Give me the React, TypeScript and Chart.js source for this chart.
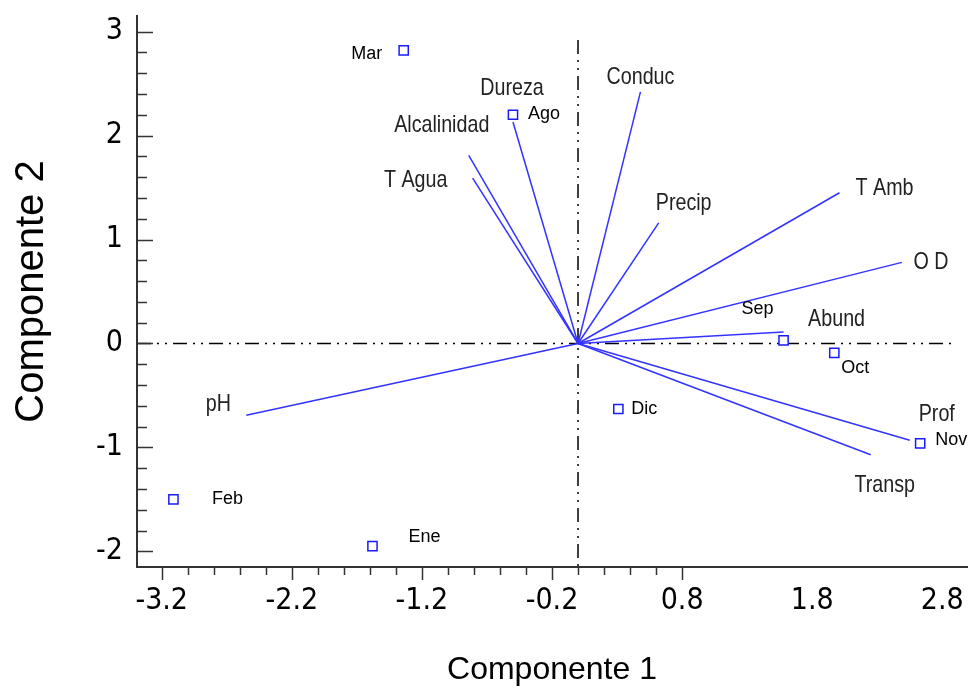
import React, { useEffect, useRef } from "react";
import { Chart, registerables } from "chart.js";

Chart.register(...registerables);

// ---- data ----
const months = ["Mar", "Ago", "Sep", "Oct", "Nov", "Dic", "Ene", "Feb"];
const monthX = [-1.34, -0.5, 1.58, 1.97, 2.63, 0.31, -1.58, -3.11];
const monthY = [2.82, 2.2, 0.03, -0.09, -0.96, -0.63, -1.95, -1.5];

const variables = ["Conduc", "Dureza", "Alcalinidad", "T Agua", "Precip", "T Amb", "O D", "Abund", "Prof", "Transp", "pH"];
const loadX = [0.48, -0.5, -0.84, -0.81, 0.62, 2.01, 2.49, 1.58, 2.55, 2.25, -2.55];
const loadY = [2.42, 2.13, 1.81, 1.59, 1.16, 1.45, 0.78, 0.11, -0.93, -1.07, -0.69];

const xTickValues = [-3.2, -2.2, -1.2, -0.2, 0.8, 1.8, 2.8];
const yTickValues = [-2, -1, 0, 1, 2, 3];

// ---- layout / style (pixel offsets of labels from their marks) ----
const monthLabelOffset: Record<string, [number, number]> = {
  Mar: [-37, 4], Ago: [31, -1], Sep: [-26, -31], Oct: [21, 15],
  Nov: [31, -3], Dic: [26, 0], Ene: [52, -9], Feb: [54, 0],
};
const varLabelOffset: Record<string, [number, number]> = {
  Conduc: [0, -15], Dureza: [-1, -34], Alcalinidad: [-27, -30], "T Agua": [-57, 2],
  Precip: [25, -20], "T Amb": [45, -4], "O D": [29, 0], Abund: [53, -13],
  Prof: [27, -26], Transp: [14, 31], pH: [-28, -11],
};

const SANS = "'Liberation Sans', Arial, sans-serif";
const NARROW = "'Liberation Sans Narrow', 'Arial Narrow', 'DejaVu Sans Condensed', sans-serif";
const LINE_BLUE = "#3333ff";
const MARK_BLUE = "#1a1aff";
const NARROW_SCALE = 0.82;

const overlayPlugin = {
  id: "biplotOverlay",
  beforeDatasetsDraw(chart: any) {
    const { ctx, chartArea, scales } = chart;
    const x0 = scales.x.getPixelForValue(0);
    const y0 = scales.y.getPixelForValue(0);
    ctx.save();
    ctx.strokeStyle = "#000";
    ctx.lineWidth = 1.5;
    ctx.setLineDash([14, 6, 2, 6, 2, 6]);
    ctx.beginPath();
    ctx.moveTo(x0, chartArea.top + 24);
    ctx.lineTo(x0, chartArea.bottom);
    ctx.stroke();
    ctx.beginPath();
    ctx.moveTo(chartArea.left, y0);
    ctx.lineTo(chartArea.right - 16, y0);
    ctx.stroke();
    ctx.restore();
  },
  afterDraw(chart: any) {
    const { ctx, chartArea, scales } = chart;
    const xs = scales.x;
    const ys = scales.y;
    ctx.save();
    ctx.strokeStyle = "#333";
    ctx.lineWidth = 1.5;
    ctx.setLineDash([]);
    // y ticks (inside, to the right)
    for (let k = Math.ceil(ys.min / 0.2 - 1e-6); k * 0.2 <= ys.max + 1e-9; k++) {
      const v = k * 0.2;
      const major = Math.abs(v - Math.round(v)) < 1e-6;
      const py = Math.round(ys.getPixelForValue(v)) + 0.5;
      ctx.beginPath();
      ctx.moveTo(chartArea.left, py);
      ctx.lineTo(chartArea.left + (major ? 16 : 10), py);
      ctx.stroke();
    }
    // x ticks (outside, downwards)
    for (let k = -20; k <= 20; k++) {
      const v = -3.2 + k * 0.2;
      if (v < xs.min - 1e-6 || v > xs.max + 1e-6) continue;
      const major = k % 5 === 0;
      const px = Math.round(xs.getPixelForValue(v)) + 0.5;
      ctx.beginPath();
      ctx.moveTo(px, chartArea.bottom);
      ctx.lineTo(px, chartArea.bottom + (major ? 13 : 8));
      ctx.stroke();
    }
    // variable labels (Arial-narrow look: horizontally condensed sans)
    ctx.textAlign = "center";
    ctx.textBaseline = "middle";
    ctx.fillStyle = "#222";
    ctx.font = `24px ${SANS}`;
    variables.forEach((name, i) => {
      const [dx, dy] = varLabelOffset[name];
      const px = xs.getPixelForValue(loadX[i]) + dx;
      const py = ys.getPixelForValue(loadY[i]) + dy;
      ctx.save();
      ctx.translate(px, py);
      ctx.scale(NARROW_SCALE, 1);
      ctx.fillText(name, 0, 0);
      ctx.restore();
    });
    // month labels
    ctx.fillStyle = "#000";
    ctx.font = `18px ${SANS}`;
    months.forEach((name, i) => {
      const [dx, dy] = monthLabelOffset[name];
      ctx.fillText(name, xs.getPixelForValue(monthX[i]) + dx, ys.getPixelForValue(monthY[i]) + dy);
    });
    ctx.restore();
  },
};

export default function App() {
  const ref = useRef<HTMLCanvasElement>(null);
  useEffect(() => {
    const canvas = ref.current;
    if (!canvas) return;
    const datasets: any[] = variables.map((name, i) => ({
      label: name,
      data: [{ x: 0, y: 0 }, { x: loadX[i], y: loadY[i] }],
      showLine: true,
      borderColor: LINE_BLUE,
      borderWidth: 1.5,
      pointRadius: 0,
      fill: false,
    }));
    datasets.push({
      label: "Meses",
      data: months.map((m, i) => ({ x: monthX[i], y: monthY[i] })),
      showLine: false,
      pointStyle: "rect",
      pointRadius: 6.5,
      pointBorderWidth: 1.5,
      borderColor: MARK_BLUE,
      backgroundColor: "#ffffff",
    });
    const chart = new Chart(canvas, {
      type: "scatter",
      data: { datasets },
      plugins: [overlayPlugin],
      options: {
        responsive: false,
        animation: false,
        layout: { autoPadding: false, padding: { top: 16, right: 1, left: 0, bottom: 0 } },
        plugins: { legend: { display: false }, tooltip: { enabled: false } },
        scales: {
          x: {
            type: "linear",
            min: -3.39,
            max: 2.99,
            grid: { display: false, drawTicks: false },
            border: { display: true, color: "#333", width: 2 },
            afterBuildTicks: (s: any) => {
              s.ticks = xTickValues.map((v) => ({ value: v }));
            },
            afterFit: (s: any) => {
              s.height = 124;
              s.paddingLeft = 0;
              s.paddingRight = 0;
            },
            ticks: {
              autoSkip: false,
              maxRotation: 0,
              padding: 19,
              color: "#000",
              font: { family: NARROW, size: 30, lineHeight: 1 },
              callback: (v: any) => Number(v).toFixed(1),
            },
            title: {
              display: true,
              text: "Componente 1",
              color: "#000",
              font: { family: SANS, size: 32, lineHeight: 1 },
              padding: { top: 0, bottom: 5 },
            },
          },
          y: {
            type: "linear",
            min: -2.15,
            max: 3.15,
            grid: { display: false, drawTicks: false },
            border: { display: true, color: "#333", width: 2 },
            afterBuildTicks: (s: any) => {
              s.ticks = yTickValues.map((v) => ({ value: v }));
            },
            afterFit: (s: any) => {
              s.width = 137;
              s.paddingTop = 0;
              s.paddingBottom = 0;
            },
            ticks: {
              autoSkip: false,
              padding: 14,
              color: "#000",
              font: { family: NARROW, size: 30, lineHeight: 1 },
              callback: (v: any) => String(v),
            },
            title: {
              display: true,
              text: "Componente 2",
              color: "#000",
              font: { family: SANS, size: 40, lineHeight: 1 },
              padding: { top: 12, bottom: 0 },
            },
          },
        },
      } as any,
    });
    return () => chart.destroy();
  }, []);
  return (
    <div style={{ position: "absolute", left: 0, top: 0, width: 968, height: 691, background: "#fff" }}>
      <canvas ref={ref} width={968} height={691} style={{ display: "block" }} />
    </div>
  );
}
